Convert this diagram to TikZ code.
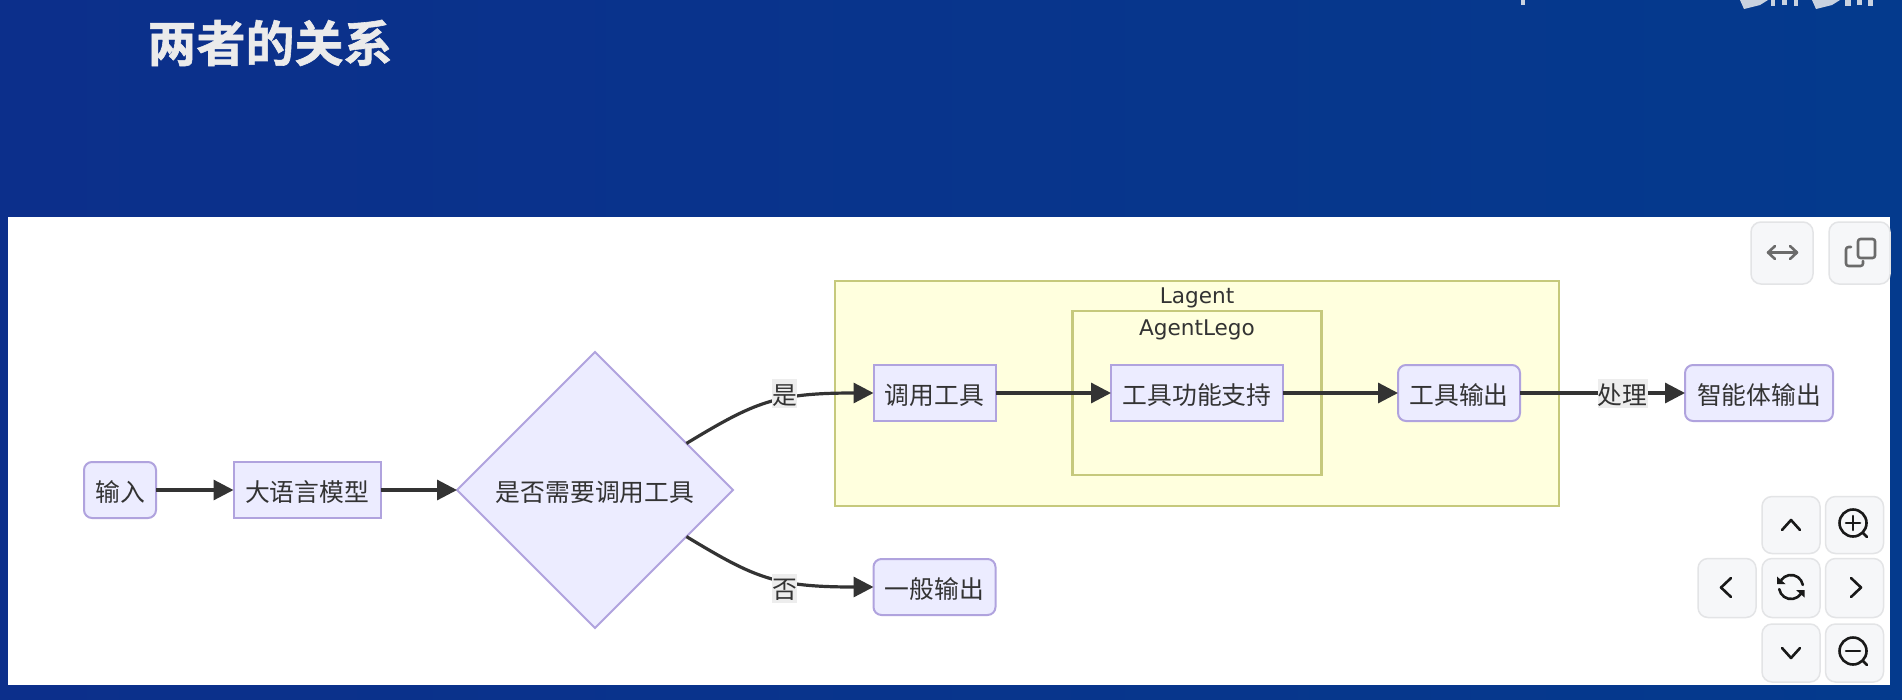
\documentclass[tikz,border=0pt]{standalone}
\usepackage{fontspec}
\usetikzlibrary{arrows.meta,shapes.geometric}
\setmainfont{DejaVu Sans}
\newfontfamily\cjk{Noto Sans CJK SC}
\newfontfamily\cjkbold[FakeBold=1.2]{Noto Sans CJK SC Bold}
\definecolor{panelL}{HTML}{0C2F8B}
\definecolor{panelR}{HTML}{043A8D}
\definecolor{nodefill}{HTML}{ECECFF}
\definecolor{nodeline}{HTML}{B0A3DE}
\definecolor{groupfill}{HTML}{FFFFDE}
\definecolor{groupline}{HTML}{C6C97C}
\definecolor{ink}{HTML}{333333}
\definecolor{btnfill}{HTML}{F6F7F9}
\definecolor{btnline}{HTML}{E3E4E6}
\definecolor{logogray}{HTML}{C9D2E0}
\tikzset{
  x=1pt,y=-1pt,
  boxbase/.style={draw=nodeline,fill=nodefill,line width=2pt,inner sep=0pt,outer sep=0pt,text=ink,font=\cjk\fontsize{24.8}{24.8}\selectfont,anchor=center,text height=26pt,text depth=3pt},
  squarebox/.style={boxbase},
  roundbox/.style={boxbase,rounded corners=8pt},
  decisionbox/.style={boxbase,diamond,aspect=1,minimum width=276pt,minimum height=276pt},
  groupbox/.style={draw=groupline,line width=2.5pt,inner sep=0pt,outer sep=0pt},
  grouptitle/.style={text=ink,font=\fontsize{21.6}{21.6}\selectfont,inner sep=0pt},
  conn/.style={draw=ink,line width=3.2pt,-{Triangle[length=20pt,width=20pt]}},
  edgelabel/.style={fill=black!7,text=ink,font=\cjk\fontsize{24.8}{24.8}\selectfont,inner sep=0pt,minimum height=29pt,text height=24pt,text depth=3pt},
  btn/.style={draw=btnline,fill=btnfill,line width=1.5pt,rounded corners=10pt,inner sep=0pt,outer sep=0pt},
  icon/.style={draw=black!90,line width=2.6pt,line cap=round,line join=round},
  grayicon/.style={draw=black!58,line width=2.6pt,line cap=round,line join=round},
}
\begin{document}
\begin{tikzpicture}
\useasboundingbox (0,0) rectangle (1902,699);
% background
\shade[left color=panelL,right color=panelR] (0,0) rectangle (1902,699);
% cut-off marks at the top edge
\fill[logogray] (1521,0) rectangle (1525,5);
\fill[logogray] (1740,0) -- (1768,0) -- (1760,5) -- (1744,9) -- cycle;
\fill[logogray] (1771,0) rectangle (1775,6);
\fill[logogray] (1782,0) rectangle (1787,5);
\fill[logogray] (1794,0) rectangle (1798,6);
\fill[logogray] (1812,0) -- (1840,0) -- (1832,5) -- (1816,9) -- cycle;
\fill[logogray] (1845,0) rectangle (1851,6);
\fill[logogray] (1857,0) rectangle (1862,5);
\fill[logogray] (1868,0) rectangle (1873,6);
\node[text=white!92!black,font=\cjkbold\fontsize{49}{49}\selectfont,inner sep=0pt] (title) at (270,43) {两者的关系};
% white panel
\fill[white] (8,217) rectangle (1890,685);
% groups
\node[groupbox,fill=groupfill,minimum width=724pt,minimum height=225pt] (lagent) at (1197,393.5) {};
\node[groupbox,fill=groupfill,minimum width=249pt,minimum height=164pt] (lego) at (1197,393) {};
\node[grouptitle] (lagenttitle) at (1197,298) {Lagent};
\node[grouptitle] (legotitle) at (1197,330) {AgentLego};
% nodes
\node[roundbox,minimum width=72pt,minimum height=56pt] (input) at (120,490) {输入};
\node[squarebox,minimum width=147pt,minimum height=56pt] (llm) at (307,490) {大语言模型};
\node[decisionbox] (dec) at (595,490) {是否需要调用工具};
\node[squarebox,minimum width=122pt,minimum height=56pt] (call) at (934.5,393) {调用工具};
\node[squarebox,minimum width=172pt,minimum height=56pt] (support) at (1197,393) {工具功能支持};
\node[roundbox,minimum width=122pt,minimum height=56pt] (toolout) at (1459,393) {工具输出};
\node[roundbox,minimum width=148pt,minimum height=56pt] (agentout) at (1759,393) {智能体输出};
\node[roundbox,minimum width=122pt,minimum height=56pt] (general) at (934.5,587) {一般输出};
% connectors
\draw[conn] (input.east) -- (llm.west);
\draw[conn] (llm.east) -- (dec.west);
\draw[conn] (dec.27) .. controls (755,402) and (775,393) .. (call.west);
\draw[conn] (dec.-27) .. controls (755,578) and (775,587) .. (general.west);
\draw[conn] (call.east) -- (support.west);
\draw[conn] (support.east) -- (toolout.west);
\draw[conn] (toolout.east) -- (agentout.west);
% edge labels
\node[edgelabel,minimum width=25pt] (yes) at (784.5,393.5) {是};
\node[edgelabel,minimum width=25pt] (no) at (784.5,588) {否};
\node[edgelabel,minimum width=50pt] (proc) at (1622.5,393.5) {处理};
% buttons
\node[btn,minimum width=62pt,minimum height=62pt] (fit) at (1782,253) {};
\node[btn,minimum width=61pt,minimum height=62pt] (copy) at (1859.5,253) {};
\node[btn,minimum width=58pt,minimum height=57pt] (up) at (1791,525) {};
\node[btn,minimum width=58pt,minimum height=57pt] (zoomin) at (1854.5,525) {};
\node[btn,minimum width=58pt,minimum height=59pt] (left) at (1727,588) {};
\node[btn,minimum width=58pt,minimum height=59pt] (reset) at (1791,588) {};
\node[btn,minimum width=58pt,minimum height=59pt] (right) at (1854.5,588) {};
\node[btn,minimum width=58pt,minimum height=58pt] (down) at (1791,653) {};
\node[btn,minimum width=58pt,minimum height=58pt] (zoomout) at (1854.5,653) {};
% icons
\draw[grayicon] (1770,252.5) -- (1795,252.5);
\draw[grayicon] (1775,246) -- (1768,252.5) -- (1775,259);
\draw[grayicon] (1790,246) -- (1797,252.5) -- (1790,259);
\draw[grayicon,rounded corners=2.5pt] (1858,239) rectangle (1875,258);
\draw[grayicon,rounded corners=2.5pt] (1851,247) -- (1846,247) -- (1846,266) -- (1863,266) -- (1863,261);
\draw[icon] (1782,530) -- (1791,520) -- (1800,530);
\draw[icon] (1782,648) -- (1791,658) -- (1800,648);
\draw[icon] (1731,578) -- (1721,587.5) -- (1731,597);
\draw[icon] (1851,578) -- (1861,587.5) -- (1851,597);
\draw[icon] (1853,523) circle (13.5);
\draw[icon] (1863,533) -- (1867,537);
\draw[icon] (1846,523) -- (1860,523);
\draw[icon] (1853,516) -- (1853,530);
\draw[icon] (1853,651) circle (13.5);
\draw[icon] (1863,661) -- (1867,665);
\draw[icon] (1846,651) -- (1860,651);
% refresh icon: two arcs about (1791,587), angles run clockwise because y points down
\draw[icon] (1802.8,584.9) arc[start angle=350,end angle=215,radius=12];
\draw[icon] (1779.2,589.1) arc[start angle=170,end angle=35,radius=12];
\fill[black!90] (1777,576.5) -- (1777,584) -- (1785.5,584) -- cycle;
\fill[black!90] (1804.5,597.5) -- (1804.5,590) -- (1796,590) -- cycle;
\end{tikzpicture}
\end{document}
